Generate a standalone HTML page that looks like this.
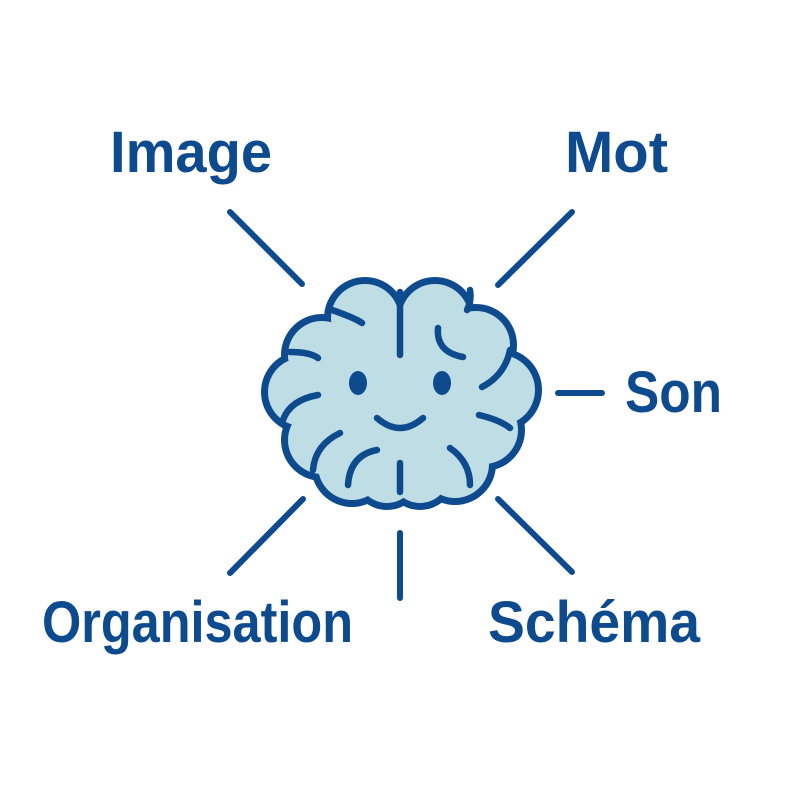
<!DOCTYPE html>
<html><head><meta charset="utf-8"><style>body{margin:0;background:#fff}svg{display:block}</style></head>
<body>
<svg width="800" height="800" viewBox="0 0 800 800" xmlns="http://www.w3.org/2000/svg">
<g stroke="#0e4a8e" stroke-width="6" stroke-linecap="round" fill="none">
<line x1="230" y1="212" x2="302" y2="284"/>
<line x1="572" y1="212" x2="498" y2="285"/>
<line x1="558" y1="393" x2="602" y2="393"/>
<line x1="303" y1="499" x2="230" y2="573"/>
<line x1="400" y1="533" x2="400" y2="598"/>
<line x1="498" y1="499" x2="572" y2="572"/>
</g>
<g fill="#0e4a8e">
<circle cx="365" cy="318" r="41"/><circle cx="435" cy="318" r="41"/>
<circle cx="322" cy="355" r="41"/><circle cx="302" cy="392" r="41"/>
<circle cx="322" cy="440" r="41"/><circle cx="352" cy="466" r="41"/>
<circle cx="387" cy="474" r="36"/><circle cx="420" cy="474" r="36"/>
<circle cx="455" cy="464" r="41"/><circle cx="484" cy="430" r="41"/>
<circle cx="500" cy="390" r="42"/><circle cx="476" cy="345" r="41"/>
<circle cx="400" cy="390" r="90"/>
</g>
<g fill="#bfdde4">
<circle cx="365" cy="318" r="34"/><circle cx="435" cy="318" r="34"/>
<circle cx="322" cy="355" r="34"/><circle cx="302" cy="392" r="34"/>
<circle cx="322" cy="440" r="34"/><circle cx="352" cy="466" r="34"/>
<circle cx="387" cy="474" r="29"/><circle cx="420" cy="474" r="29"/>
<circle cx="455" cy="464" r="34"/><circle cx="484" cy="430" r="34"/>
<circle cx="500" cy="390" r="35"/><circle cx="476" cy="345" r="34"/>
<circle cx="400" cy="390" r="84"/>
</g>
<g stroke="#0e4a8e" stroke-width="6.5" stroke-linecap="round" fill="none">
<line x1="400" y1="292" x2="400" y2="355"/>
<path d="M332 310 Q355 318 362 323"/>
<path d="M290 352 Q310 352 318 358"/>
<path d="M318 395 Q290 400 283 420"/>
<path d="M340 433 Q315 445 313 470"/>
<path d="M377 450 Q350 455 348 485"/>
<line x1="400" y1="463" x2="400" y2="492"/>
<path d="M450 448 Q470 462 470 485"/>
<path d="M479 415 Q500 420 510 428"/>
<path d="M482 387 Q505 375 510 350"/>
<path d="M467 310 Q472 300 470 290"/>
<path d="M438 328 Q436 352 463 357"/>
<path d="M377 418 Q400 438 423 418"/>
</g>
<g fill="#0e4a8e">
<ellipse cx="358" cy="383" rx="9" ry="12"/>
<ellipse cx="442" cy="383" rx="9" ry="12"/>
</g>
<g fill="#0e4a8e" font-family="Liberation Sans, sans-serif" font-weight="bold" font-size="58">
<text x="110" y="172" textLength="162" lengthAdjust="spacingAndGlyphs">Image</text>
<text x="565" y="172" textLength="103" lengthAdjust="spacingAndGlyphs">Mot</text>
<text x="625" y="412" textLength="97" lengthAdjust="spacingAndGlyphs">Son</text>
<text x="42" y="642" textLength="311" lengthAdjust="spacingAndGlyphs">Organisation</text>
<text x="488" y="642" textLength="212" lengthAdjust="spacingAndGlyphs">Schéma</text>
</g>
</svg>
</body></html>
